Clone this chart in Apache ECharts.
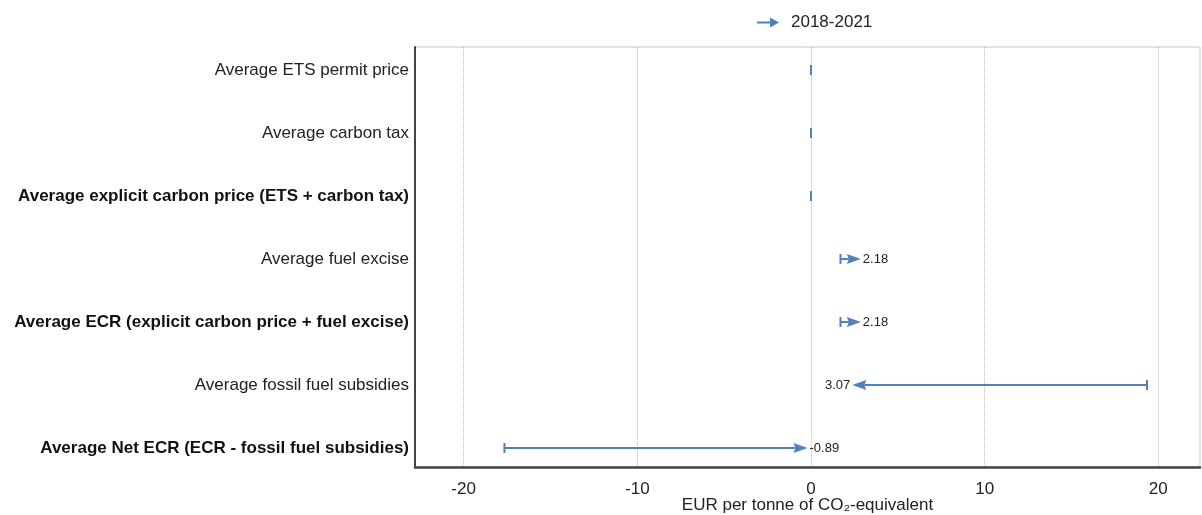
<!DOCTYPE html>
<html><head><meta charset="utf-8">
<script src="https://cdn.jsdelivr.net/npm/echarts@6/dist/echarts.min.js"></script>
<style>html,body{margin:0;padding:0;background:#fff}#c{width:1202px;height:515px}</style>
</head><body><div id="c"></div>
<script>
const categories = [
  'Average ETS permit price',
  'Average carbon tax',
  'Average explicit carbon price (ETS + carbon tax)',
  'Average fuel excise',
  'Average ECR (explicit carbon price + fuel excise)',
  'Average fossil fuel subsidies',
  'Average Net ECR (ECR - fossil fuel subsidies)'
];
const boldRows = [false, false, true, false, true, false, true];
const start2018 = [0, 0, 0, 1.7, 1.7, 19.35, -17.65];
const end2021 = [0, 0, 0, 2.18, 2.18, 3.07, -0.89];
const endLabels = ['', '', '', '2.18', '2.18', '3.07', '-0.89'];
const xTicks = [-20, -10, 0, 10, 20];
const rowIdx = [0, 1, 2, 3, 4, 5, 6];
const seriesName = '2018-2021';
const color = '#4f81bd';

const data = categories.map((c, i) => [start2018[i], end2021[i], i]);

function renderItem(params, api) {
  const s = api.value(0), e = api.value(1), row = api.value(2);
  const i = params.dataIndex;
  const p0 = api.coord([s, row]), p1 = api.coord([e, row]);
  const children = [];
  const capH = 5;
  children.push({type: 'line', shape: {x1: p0[0], y1: p0[1] - capH, x2: p0[0], y2: p0[1] + capH},
    style: {stroke: color, lineWidth: 2}});
  if (s === e) return {type: 'group', children};
  const dir = p1[0] > p0[0] ? 1 : -1;
  const headL = 12, headW = 5;
  const tip = p1[0] + dir * headL;
  children.push({type: 'line', shape: {x1: p0[0], y1: p0[1], x2: p1[0], y2: p1[1]},
    style: {stroke: color, lineWidth: 2}});
  children.push({type: 'polygon', shape: {points: [[p1[0] - dir * 2, p1[1] - headW], [tip, p1[1]], [p1[0] - dir * 2, p1[1] + headW], [p1[0], p1[1]]]},
    style: {fill: color}});
  children.push({type: 'text', x: tip + dir * 2, y: p1[1],
    style: {text: endLabels[i], fill: '#222', font: '13px "Liberation Sans", Arial, sans-serif',
      align: dir > 0 ? 'left' : 'right', verticalAlign: 'middle'}});
  return {type: 'group', children};
}

const chart = echarts.init(document.getElementById('c'), null, {renderer: 'canvas'});
chart.setOption({
  animation: false,
  backgroundColor: '#fff',
  textStyle: {fontFamily: '"Liberation Sans", Arial, sans-serif'},
  legend: {
    data: [{name: seriesName, icon: 'path://M0,4 L13,4 L13,0 L22,5 L13,10 L13,6 L0,6 Z'}],
    left: 757, top: 14, padding: 0, itemWidth: 22, itemHeight: 10, itemGap: 8,
    textStyle: {fontSize: 17, color: '#222', padding: [0, 0, 0, 7]}
  },
  grid: {left: 415, right: 2, top: 47, bottom: 48, show: true, borderColor: '#c8c8c8', borderWidth: 1,
    containLabel: false, outerBoundsMode: 'none'},
  xAxis: {
    type: 'value', min: -22.8, max: 22.4,
    axisLine: {show: true, onZero: false, lineStyle: {color: '#444', width: 2.5}},
    axisTick: {show: false},
    splitLine: {show: false},
    axisLabel: {customValues: xTicks, fontSize: 17, color: '#222', margin: 14},
    name: 'EUR per tonne of CO\u2082-equivalent', nameLocation: 'middle', nameGap: 30,
    nameMoveOverlap: false,
    nameTextStyle: {fontSize: 17, color: '#222'}
  },
  yAxis: {
    type: 'value', inverse: true, min: -0.365, max: 6.302,
    axisLine: {show: true, onZero: false, lineStyle: {color: '#444', width: 2}},
    axisTick: {show: false},
    splitLine: {show: false},
    axisLabel: {
      customValues: rowIdx, margin: 6, color: '#222', fontSize: 17,
      formatter: v => { const i = Math.round(v); return boldRows[i] ? '{b|' + categories[i] + '}' : categories[i]; },
      rich: {b: {fontWeight: 'bold', fontSize: 17, color: '#111'}}
    }
  },
  series: [
    {
      type: 'line', name: 'grid', data: [], z: 1, silent: true,
      markLine: {symbol: 'none', silent: true, label: {show: false},
        lineStyle: {type: 'dotted', color: '#bbb', width: 1},
        data: xTicks.map(v => ({xAxis: v}))}
    },
    {
      type: 'custom', name: seriesName, renderItem, data, z: 5,
      encode: {x: [0, 1], y: 2},
      itemStyle: {color: color}
    }
  ]
});
</script></body></html>
